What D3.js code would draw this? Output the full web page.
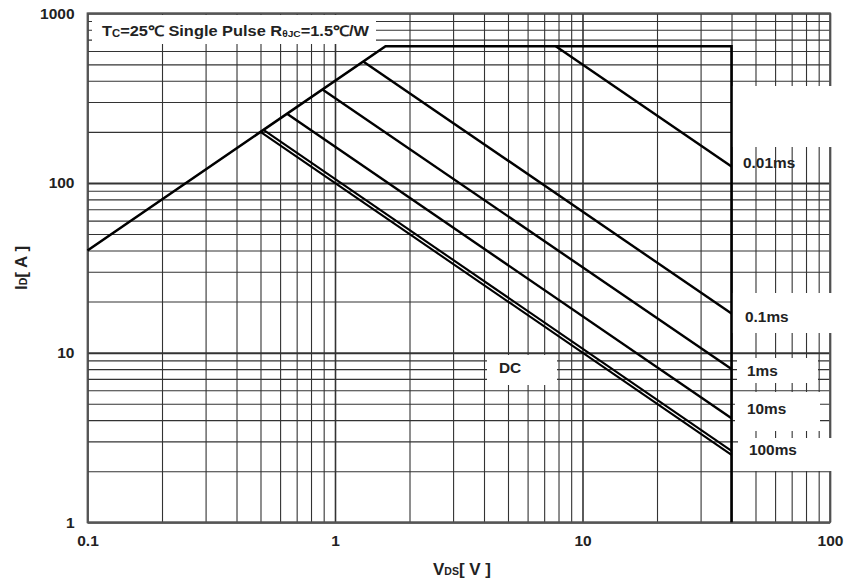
<!DOCTYPE html>
<html><head><meta charset="utf-8">
<script src="https://cdn.jsdelivr.net/npm/d3@7"></script>
<style>body{margin:0;background:#fff}svg{display:block}</style>
</head><body><svg id="c" width="847" height="584"></svg>
<script>
// ---- data ----
const xTickValues = [0.1, 1, 10, 100];
const xTickLabels = ["0.1", "1", "10", "100"];
const yTickValues = [1, 10, 100, 1000];
const yTickLabels = ["1", "10", "100", "1000"];
// SOA boundary (RDS(on) limit, current limit, voltage limit)
const limitV = [0.1, 1.6, 40, 40];
const limitI = [40, 640, 640, 1];
// pulse lines (start / end points)
const pulseNames = ["0.01ms", "0.1ms", "1ms", "10ms", "100ms", "DC"];
const pulseV0 = [7.8, 1.3, 0.89, 0.64, 0.514, 0.5];
const pulseI0 = [640, 520, 356, 256, 205.6, 200];
const pulseV1 = [40, 40, 40, 40, 40, 40];
const pulseI1 = [125, 17, 8, 4.1, 2.64, 2.5];

// ---- layout ----
const L = 87.5, R = 830, T = 13.3, B = 522.3;
const labelLayout = [
  {tx: 743, ty: 164, box: [732, 86, 834, 147]},
  {tx: 745, ty: 318, box: [732, 293, 834, 333]},
  {tx: 747, ty: 372, box: [737, 358, 818, 383]},
  {tx: 747, ty: 410, box: [735, 392, 820, 431]},
  {tx: 749, ty: 451, box: [738, 438, 834, 471]},
  {tx: 499, ty: 369, box: [487, 355, 557, 385]}
];
const pulseWidths = [2.4, 2.4, 2.4, 2.4, 2.1, 2.1];

const svg = d3.select("#c");
const x = d3.scaleLog().domain([0.1, 100]).range([L, R]);
const y = d3.scaleLog().domain([1, 1000]).range([B, T]);
const isDecade = v => Math.abs(Math.log10(v) - Math.round(Math.log10(v))) < 1e-6;

// grid via axes
const gx = svg.append("g").attr("transform", `translate(0,${B})`)
  .call(d3.axisBottom(x).tickValues(x.ticks()).tickSize(-(B - T)).tickFormat(""));
gx.select(".domain").remove();
gx.selectAll(".tick line").attr("stroke", "#333")
  .attr("stroke-width", d => isDecade(d) ? 1.6 : 1.1);

const gy = svg.append("g").attr("transform", `translate(${L},0)`)
  .call(d3.axisLeft(y).tickValues(y.ticks()).tickSize(-(R - L)).tickFormat(""));
gy.select(".domain").remove();
gy.selectAll(".tick line").attr("stroke", "#333")
  .attr("stroke-width", d => isDecade(d) ? 2 : 1.1);

// frame
svg.append("rect").attr("x", L).attr("y", T).attr("width", R - L).attr("height", B - T)
  .attr("fill", "none").attr("stroke", "#555").attr("stroke-width", 1.8);

// white label boxes (interrupt grid)
svg.append("rect").attr("x", 92).attr("y", 15).attr("width", 284).attr("height", 29).attr("fill", "#fff");
labelLayout.forEach(l => {
  svg.append("rect").attr("x", l.box[0]).attr("y", l.box[1])
    .attr("width", l.box[2] - l.box[0]).attr("height", l.box[3] - l.box[1]).attr("fill", "#fff");
});

// SOA limit
const line = d3.line().x(d => x(d[0])).y(d => y(d[1]));
svg.append("path").datum(limitV.map((v, i) => [v, limitI[i]]))
  .attr("d", line).attr("fill", "none").attr("stroke", "#000").attr("stroke-width", 2.6)
  .attr("stroke-linejoin", "miter");

// pulse lines
pulseNames.forEach((n, i) => {
  svg.append("path").datum([[pulseV0[i], pulseI0[i]], [pulseV1[i], pulseI1[i]]])
    .attr("d", line).attr("fill", "none").attr("stroke", "#000").attr("stroke-width", pulseWidths[i]);
});

// pulse labels
const font = "'Liberation Sans', Arial, Helvetica, sans-serif";
pulseNames.forEach((n, i) => {
  svg.append("text").attr("transform", `translate(${labelLayout[i].tx},${labelLayout[i].ty}) scale(1.1,1)`)
    .attr("dominant-baseline", "middle").attr("font-family", font).attr("font-weight", "bold")
    .attr("font-size", 14).attr("fill", "#222").text(n);
});

// title
const title = svg.append("text").attr("transform", "translate(102,36) scale(1.13,1)").attr("font-family", font)
  .attr("font-weight", "bold").attr("font-size", 14.5).attr("fill", "#222");
title.append("tspan").text("T");
title.append("tspan").attr("font-size", 10).attr("dy", 1).text("C");
title.append("tspan").attr("dy", -1).text("=25℃ Single Pulse R");
title.append("tspan").attr("font-size", 9).attr("dy", 1).text("θJC");
title.append("tspan").attr("dy", -1).text("=1.5℃/W");

// tick labels via axes
const ax = svg.append("g").attr("transform", `translate(0,${B})`)
  .call(d3.axisBottom(x).tickValues(xTickValues).tickSize(0).tickPadding(13)
    .tickFormat((d, i) => xTickLabels[i]));
ax.select(".domain").remove();
ax.selectAll("text").attr("font-family", font).attr("font-weight", "bold")
  .attr("font-size", 15.5).attr("fill", "#222");

const ay = svg.append("g").attr("transform", `translate(${L},0)`)
  .call(d3.axisLeft(y).tickValues(yTickValues).tickSize(0).tickPadding(13)
    .tickFormat((d, i) => yTickLabels[i]));
ay.select(".domain").remove();
ay.selectAll("text").attr("font-family", font).attr("font-weight", "bold")
  .attr("font-size", 15.5).attr("fill", "#222");

// axis titles
const xt = svg.append("text").attr("x", 462).attr("y", 575).attr("text-anchor", "middle")
  .attr("font-family", font).attr("font-weight", "bold").attr("font-size", 17).attr("fill", "#222");
xt.append("tspan").text("V");
xt.append("tspan").attr("font-size", 10.5).text("DS");
xt.append("tspan").text("[ V ]");

const yt = svg.append("text").attr("transform", "translate(27,268) rotate(-90)").attr("text-anchor", "middle")
  .attr("font-family", font).attr("font-weight", "bold").attr("font-size", 17).attr("fill", "#222");
yt.append("tspan").text("I");
yt.append("tspan").attr("font-size", 10.5).text("D");
yt.append("tspan").text("[ A ]");
</script>
</body></html>
